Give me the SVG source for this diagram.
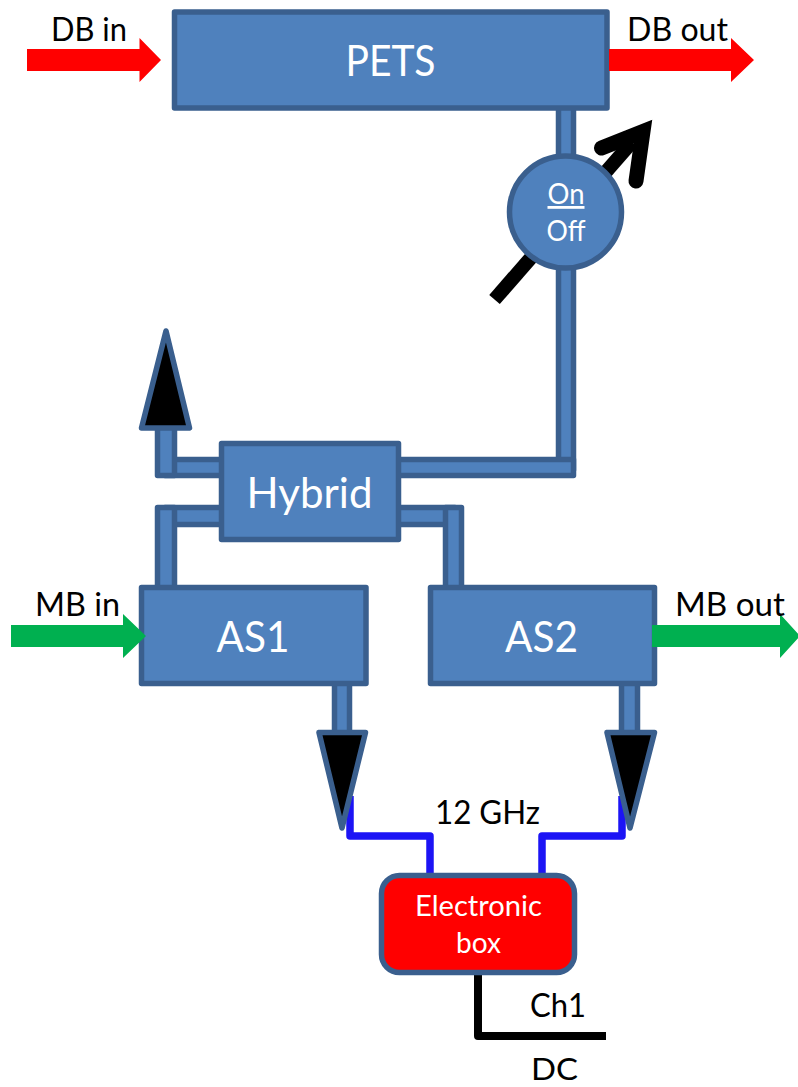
<svg xmlns="http://www.w3.org/2000/svg" width="798" height="1087" viewBox="0 0 798 1087">
<style>
text{font-family:"Lato","Liberation Sans",sans-serif;text-anchor:middle}
.b{fill:#4f81bd;stroke:#3a5f8e;stroke-width:5.500;stroke-linejoin:round}
.t{fill:#000;stroke:#3a5f8e;stroke-width:5.500;stroke-linejoin:round}
.w{fill:#fff}
.k{fill:#000}
.sig{fill:none;stroke:#1c14f5;stroke-width:7.500;stroke-linejoin:round}
</style>
<g id="connectors">
<rect class="b" x="558.500" y="100" width="15" height="70"/>
<rect class="b" x="558.500" y="260" width="15" height="210"/>
<rect class="b" x="395" y="459.500" width="178.500" height="16"/>
<rect class="b" x="165" y="459.500" width="60" height="16"/>
<rect class="b" x="157.500" y="425" width="17" height="50.500"/>
<rect class="b" x="165" y="507.500" width="60" height="17"/>
<rect class="b" x="157.500" y="507.500" width="17" height="82"/>
<rect class="b" x="395" y="507.500" width="60" height="17"/>
<rect class="b" x="445.500" y="507.500" width="16" height="82"/>
<rect class="b" x="334.500" y="680" width="15" height="55"/>
<rect class="b" x="621.500" y="680" width="16" height="55"/>
<path class="sig" d="M350 796V836H430V877"/>
<path class="sig" d="M622 796V836H542V877"/>
<path d="M478 972V1036H606" fill="none" stroke="#000" stroke-width="8" stroke-linejoin="round"/>
<path d="M494.500 299.500L632 142" fill="none" stroke="#000" stroke-width="14"/>
<path d="M601.500 148L643 131.500L636 181" fill="none" stroke="#000" stroke-width="15" stroke-linecap="round" stroke-linejoin="miter" stroke-miterlimit="10"/>
</g>
<g id="db-in"><polygon fill="#f00" points="27,49 139.500,49 139.500,38 161,60 139.500,82 139.500,71 27,71"/><text class="k" x="89" y="41" font-size="32" textLength="76" lengthAdjust="spacingAndGlyphs">DB in</text></g>
<g id="pets"><rect class="b" x="174.500" y="12" width="432.500" height="96"/><text class="w" x="390.500" y="76" font-size="43" textLength="90" lengthAdjust="spacingAndGlyphs">PETS</text></g>
<g id="db-out"><polygon fill="#f00" points="609,49 731,49 731,38 754,60 731,82 731,71 609,71"/><text class="k" x="677.500" y="41" font-size="32" textLength="101" lengthAdjust="spacingAndGlyphs">DB out</text></g>
<g id="switch"><circle class="b" cx="565.500" cy="212" r="56"/><text class="w" x="566" y="204" font-size="28" textLength="37" lengthAdjust="spacingAndGlyphs" text-decoration="underline">On</text><text class="w" x="566" y="241" font-size="28" textLength="39" lengthAdjust="spacingAndGlyphs">Off</text></g>
<g id="up-horn"><polygon class="t" points="166,331 189.500,428 141.500,428"/></g>
<g id="hybrid"><rect class="b" x="221.500" y="443.500" width="177" height="96"/><text class="w" x="309.500" y="508" font-size="43" textLength="126" lengthAdjust="spacingAndGlyphs">Hybrid</text></g>
<g id="mb-in-label"><text class="k" x="77.500" y="616" font-size="32" textLength="85" lengthAdjust="spacingAndGlyphs">MB in</text></g>
<g id="as1"><rect class="b" x="141.500" y="587.500" width="224.500" height="96"/><text class="w" x="253" y="652" font-size="43" textLength="73" lengthAdjust="spacingAndGlyphs">AS1</text></g>
<g id="as2"><rect class="b" x="430.500" y="587.500" width="224" height="96"/><text class="w" x="541.500" y="652" font-size="43" textLength="73" lengthAdjust="spacingAndGlyphs">AS2</text></g>
<g id="mb-in"><polygon fill="#00b050" points="11,625 123,625 123,614 146,636 123,658 123,647 11,647"/></g>
<g id="mb-out"><polygon fill="#00b050" points="652,625 780,625 780,614 800,636 780,658 780,647 652,647"/><text class="k" x="730" y="616" font-size="32" textLength="110" lengthAdjust="spacingAndGlyphs">MB out</text></g>
<g id="horn-left"><polygon class="t" points="319,732.500 365.500,732.500 342,828"/></g>
<g id="horn-right"><polygon class="t" points="607,732.500 654.500,732.500 630,828"/></g>
<g id="freq"><text class="k" x="487.500" y="824" font-size="32" textLength="105" lengthAdjust="spacingAndGlyphs">12 GHz</text></g>
<g id="electronic-box"><rect class="t" style="fill:#f00" x="381.500" y="875.500" width="193" height="97" rx="18"/><text class="w" x="478.500" y="916" font-size="29" textLength="127" lengthAdjust="spacingAndGlyphs">Electronic</text><text class="w" x="478.500" y="953" font-size="29" textLength="45" lengthAdjust="spacingAndGlyphs">box</text></g>
<g id="ch1"><text class="k" x="558" y="1017" font-size="32" textLength="56" lengthAdjust="spacingAndGlyphs">Ch1</text></g>
<g id="dc"><text class="k" x="554.500" y="1080" font-size="31" textLength="47" lengthAdjust="spacingAndGlyphs">DC</text></g>
</svg>
